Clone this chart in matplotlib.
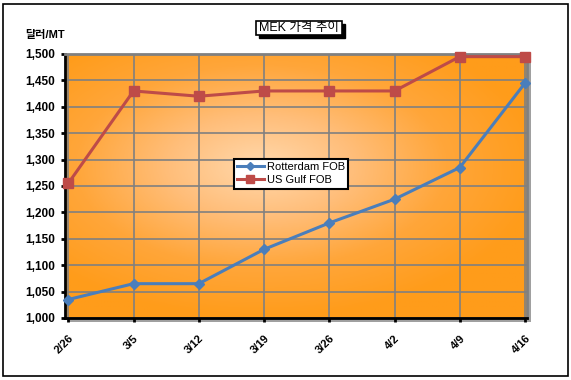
import numpy as np
import matplotlib.pyplot as plt
from matplotlib.patches import Rectangle
from matplotlib.colors import LinearSegmentedColormap

plt.rcParams['font.family'] = ['Liberation Sans', 'Noto Sans CJK KR', 'DejaVu Sans']

dates = ['2/26', '3/5', '3/12', '3/19', '3/26', '4/2', '4/9', '4/16']
rotterdam = [1035, 1065, 1065, 1130, 1180, 1225, 1285, 1445]
us_gulf = [1255, 1430, 1420, 1430, 1430, 1430, 1495, 1495]
yticks = np.arange(1000, 1501, 50)

W, H = 571, 380
fig = plt.figure(figsize=(W / 100, H / 100), dpi=100)


def px_rect(x0, y0, x1, y1, **kw):
    # rectangle given in pixel coords from top-left
    return Rectangle((x0 / W, 1 - y1 / H), (x1 - x0) / W, (y1 - y0) / H,
                     transform=fig.transFigure, **kw)


# outer frame
fig.patches.append(px_rect(3, 4, 568, 376, fill=False, edgecolor='black', linewidth=1.2))

ax = fig.add_axes([65 / W, 1 - 318 / H, 462 / W, 264 / H])
x = np.arange(len(dates))
ax.set_xlim(-0.05, 7.03)
ax.set_ylim(1000, 1500)

# radial gradient background
gx, gy = np.meshgrid(np.linspace(-1, 1, 300), np.linspace(-1, 1, 200))
r = np.sqrt(((gx + 0.15) / 1.15) ** 2 + ((gy - 0.15) / 1.1) ** 2)
r = np.clip(r / 1.05, 0, 1)
cmap = LinearSegmentedColormap.from_list('bg', ['#FFD8AC', '#FFBE7A', '#FFA63A', '#FF9C1A'])
ax.imshow(r, cmap=cmap, extent=[-0.05, 7.03, 1000, 1500], aspect='auto',
          origin='lower', zorder=0, vmin=0, vmax=1)

# shadow behind plot area
fig.patches.append(px_rect(69, 58, 531, 322, facecolor='#A0A0A0', edgecolor='none', zorder=-1))

ax.set_xticks(x)
ax.set_xticklabels(dates, rotation=45, ha='right', rotation_mode='anchor', fontsize=8,
                   fontweight='bold')
ax.set_yticks(yticks)
ax.set_yticklabels([f'{v:,}' for v in yticks], fontsize=8.5, fontweight='bold')
ax.grid(True, color='#808080', linewidth=1.2, zorder=1)
ax.tick_params(axis='x', length=3, width=2, pad=8)
ax.tick_params(axis='y', length=3, width=2, pad=4)
for s in ['left', 'bottom']:
    ax.spines[s].set_linewidth(2)
    ax.spines[s].set_color('black')
for s in ['top', 'right']:
    ax.spines[s].set_linewidth(2)
    ax.spines[s].set_color('#808080')

ax.plot(x, rotterdam, color='#4A7EBB', linewidth=2.2, marker='D', markersize=5,
        label='Rotterdam FOB', zorder=3, clip_on=False)
ax.plot(x, us_gulf, color='#BE4B48', linewidth=2.2, marker='s', markersize=7,
        label='US Gulf FOB', zorder=3, clip_on=False)

leg = ax.legend(loc='upper left', bbox_to_anchor=(163 / 462, 1 - 99 / 264), fontsize=8,
                frameon=True, fancybox=False, edgecolor='black', framealpha=1,
                handlelength=2.4, borderpad=0.3, labelspacing=0.3, handletextpad=0.3,
                markerscale=0.8)
leg.get_frame().set_linewidth(1.5)
leg.get_frame().set_facecolor('white')

fig.text(25 / W, 1 - 35 / H, '달러/MT', fontsize=8, va='center', ha='left', fontweight='bold')

# title box with drop shadow
fig.patches.append(px_rect(259, 24, 345, 38, facecolor='black', edgecolor='black'))
fig.patches.append(px_rect(256, 21, 342, 35, facecolor='white', edgecolor='black', linewidth=1.2))
fig.text(299 / W, 1 - 28 / H, 'MEK 가격 추이', fontsize=9, va='center', ha='center')

fig.savefig('out.png', dpi=100)
